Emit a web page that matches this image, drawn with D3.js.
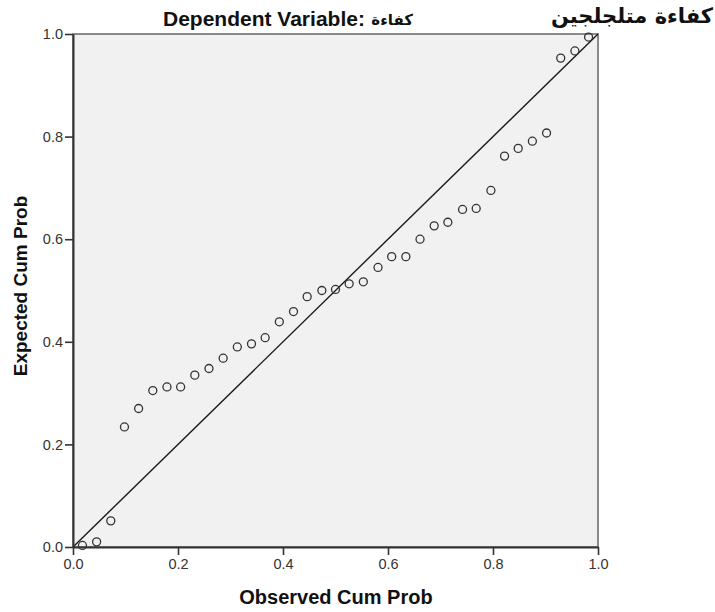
<!DOCTYPE html>
<html>
<head>
<meta charset="utf-8">
<script src="https://cdn.jsdelivr.net/npm/d3@7"></script>
<style>
  html, body { margin: 0; padding: 0; background: #ffffff; }
  svg { display: block; }
</style>
</head>
<body>
<svg id="chart" width="715" height="612"></svg>
<script>
// ---- data ----
const observedCumProb = [0.018, 0.045, 0.072, 0.098, 0.125, 0.152, 0.179, 0.205, 0.232, 0.259,
  0.286, 0.313, 0.340, 0.366, 0.393, 0.420, 0.446, 0.474, 0.500, 0.526,
  0.553, 0.581, 0.607, 0.634, 0.661, 0.688, 0.714, 0.742, 0.768, 0.796,
  0.822, 0.848, 0.875, 0.902, 0.929, 0.956, 0.982];
const expectedCumProb = [0.003, 0.010, 0.051, 0.234, 0.270, 0.305, 0.312, 0.312, 0.335, 0.348,
  0.368, 0.390, 0.396, 0.408, 0.439, 0.459, 0.488, 0.500, 0.502, 0.513,
  0.517, 0.545, 0.566, 0.566, 0.600, 0.626, 0.633, 0.658, 0.660, 0.695,
  0.762, 0.777, 0.791, 0.807, 0.953, 0.967, 0.994];
const tickValues = [0.0, 0.2, 0.4, 0.6, 0.8, 1.0];
const tickLabels = ["0.0", "0.2", "0.4", "0.6", "0.8", "1.0"];
const referenceLine = [[0, 0], [1, 1]];
const titleText = "Dependent Variable:";
const titleArabic = "كفاءة";
const cornerText = "كفاءة متلجلجين";
const xTitle = "Observed Cum Prob";
const yTitle = "Expected Cum Prob";

// ---- layout ----
const svg = d3.select("#chart");
const margin = { left: 73, top: 34 };
const plotW = 525, plotH = 513;

const x = d3.scaleLinear().domain([0, 1]).range([0, plotW]);
const y = d3.scaleLinear().domain([0, 1]).range([plotH, 0]);

const g = svg.append("g").attr("transform", `translate(${margin.left},${margin.top})`);

// plot background
g.append("rect")
  .attr("x", 0).attr("y", 0)
  .attr("width", plotW).attr("height", plotH)
  .attr("fill", "#f0f1f0")
  .attr("stroke", "#666")
  .attr("stroke-width", 1.5);

// reference line
g.append("path")
  .datum(referenceLine)
  .attr("d", d3.line().x(d => x(d[0])).y(d => y(d[1])))
  .attr("fill", "none")
  .attr("stroke", "#1a1a1a")
  .attr("stroke-width", 1.4);

// points
g.selectAll("circle.pt")
  .data(observedCumProb.map((v, i) => [v, expectedCumProb[i]]))
  .enter().append("circle")
  .attr("class", "pt")
  .attr("cx", d => x(d[0]))
  .attr("cy", d => y(d[1]))
  .attr("r", 4)
  .attr("fill", "none")
  .attr("stroke", "#333")
  .attr("stroke-width", 1.3);

// axes
const fmt = d => tickLabels[tickValues.indexOf(d)];
const xAxis = d3.axisBottom(x).tickValues(tickValues).tickFormat(fmt)
  .tickSizeInner(8).tickSizeOuter(0).tickPadding(4);
const yAxis = d3.axisLeft(y).tickValues(tickValues).tickFormat(fmt)
  .tickSizeInner(8).tickSizeOuter(0).tickPadding(2);

const gx = g.append("g").attr("transform", `translate(0,${plotH})`).call(xAxis);
const gy = g.append("g").call(yAxis);

[gx, gy].forEach(a => {
  a.select(".domain").attr("stroke", "#333").attr("stroke-width", 2);
  a.selectAll(".tick line").attr("stroke", "#333").attr("stroke-width", 1.6);
  a.selectAll(".tick text")
    .attr("fill", "#333")
    .style("font-family", "'Liberation Sans', Arial, sans-serif")
    .style("font-size", "14.5px");
});

// axis titles
svg.append("text")
  .attr("x", 336).attr("y", 604)
  .attr("text-anchor", "middle")
  .style("font-family", "'Liberation Sans', Arial, sans-serif")
  .style("font-weight", "bold")
  .style("font-size", "20px")
  .attr("fill", "#111")
  .text(xTitle);

svg.append("text")
  .attr("transform", "translate(27,286) rotate(-90)")
  .attr("text-anchor", "middle")
  .style("font-family", "'Liberation Sans', Arial, sans-serif")
  .style("font-weight", "bold")
  .style("font-size", "19px")
  .attr("fill", "#111")
  .text(yTitle);

// title
svg.append("text")
  .attr("x", 163).attr("y", 26)
  .style("font-family", "'Liberation Sans', Arial, sans-serif")
  .style("font-weight", "bold")
  .style("font-size", "21px")
  .attr("fill", "#111")
  .text(titleText);

svg.append("text")
  .attr("x", 413).attr("y", 25)
  .attr("text-anchor", "end")
  .style("font-family", "'DejaVu Sans', sans-serif")
  .style("font-weight", "bold")
  .style("font-size", "15px")
  .attr("fill", "#111")
  .text(titleArabic);

svg.append("text")
  .attr("x", 713).attr("y", 23)
  .attr("text-anchor", "end")
  .style("font-family", "'DejaVu Sans', sans-serif")
  .style("font-weight", "bold")
  .style("font-size", "21px")
  .attr("fill", "#111")
  .text(cornerText);
</script>
</body>
</html>
